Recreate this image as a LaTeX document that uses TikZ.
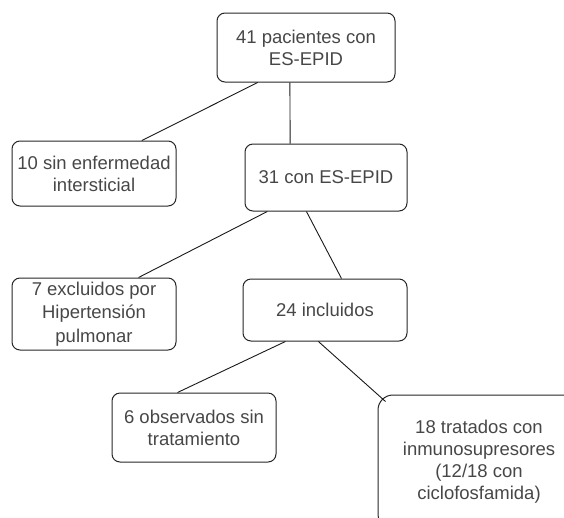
\documentclass[tikz,border=0pt]{standalone}
\usepackage{fontspec}
\setmainfont{Liberation Sans}
\usetikzlibrary{calc}

\begin{document}
\begin{tikzpicture}[
  x=1pt, y=-1pt,
  every node/.style={font=\fontsize{18.5}{22}\selectfont, text=black!72},
  caja/.style={rectangle, rounded corners=8pt, draw=black!85, line width=1pt,
               align=center, inner sep=1pt},
  linea/.style={draw=black!90, line width=0.9pt},
]
  \useasboundingbox (0,0) rectangle (564,517);
  \clip (0,0) rectangle (564,517);

  % ── Boxes ────────────────────────────────────────
  \node[caja, minimum width=178pt, minimum height=69pt] (total) at (306,47.5)
        {41 pacientes con\\ES-EPID};
  \node[caja, minimum width=164pt, minimum height=65pt] (sinEI) at (94,173.5)
        {10 sin enfermedad\\intersticial};
  \node[caja, minimum width=162pt, minimum height=67pt] (conEI) at (326,177.5)
        {31 con ES-EPID};
  \node[caja, minimum width=164pt, minimum height=72pt,
        font=\fontsize{18.5}{23.5}\selectfont] (excl) at (94,314)
        {7 excluidos por\\Hipertensión\\pulmonar};
  \node[caja, minimum width=164pt, minimum height=62pt] (incl) at (325,310)
        {24 incluidos};
  \node[caja, minimum width=164pt, minimum height=69pt] (obs) at (194,427.5)
        {6 observados sin\\tratamiento};
  \node[caja, rounded corners=15pt, minimum width=202pt, minimum height=134pt]
        (trat) at (479,462)
        {18 tratados con\\inmunosupresores\\(12/18 con\\ciclofosfamida)};

  % ── Connectors ───────────────────────────────────
  \draw[linea] ($(total.south west)!0.23!(total.south east)$)
            -- ($(sinEI.north west)!0.79!(sinEI.north east)$);
  \draw[linea] ($(total.south west)!0.41!(total.south east)$)
            -- ($(conEI.north west)!0.28!(conEI.north east)$);
  \draw[linea] ($(conEI.south west)!0.14!(conEI.south east)$)
            -- ($(excl.north west)!0.77!(excl.north east)$);
  \draw[linea] ($(conEI.south west)!0.38!(conEI.south east)$)
            -- ($(incl.north west)!0.60!(incl.north east)$);
  \draw[linea] ($(incl.south west)!0.26!(incl.south east)$)
            -- ($(obs.north west)!0.40!(obs.north east)$);
  \draw[linea] ($(incl.south west)!0.46!(incl.south east)$)
            -- ($(trat.north west)+(8,7)$);

\end{tikzpicture}
\end{document}
